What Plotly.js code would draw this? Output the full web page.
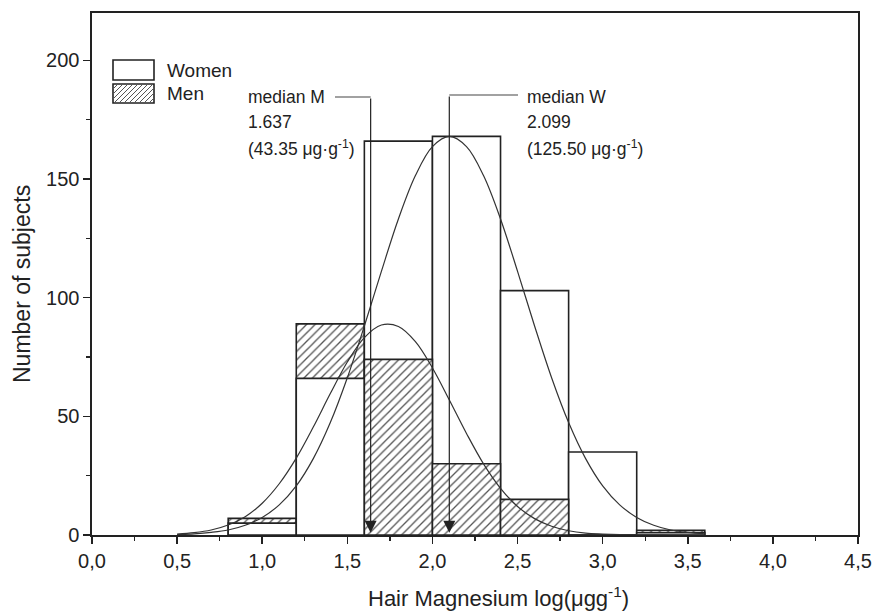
<!DOCTYPE html>
<html>
<head>
<meta charset="utf-8">
<script src="https://cdn.plot.ly/plotly-3.0.1.min.js"></script>
<style>html,body{margin:0;padding:0;background:#fff;}#chart{width:874px;height:612px;}</style>
</head>
<body>
<div id="chart"></div>
<script>
// ---- data ----
const binCenters = [1.0, 1.4, 1.8, 2.2, 2.6, 3.0, 3.4];
const women = [5, 66, 166, 168, 103, 35, 1];
const men   = [7, 89, 74, 30, 15, 0, 2];

const curveX = [0.5,0.6,0.7,0.8,0.9,1.0,1.1,1.2,1.3,1.4,1.5,1.6,1.7,1.8,1.9,2.0,2.1,2.2,2.3,2.4,2.5,2.6,2.7,2.8,2.9,3.0,3.1,3.2,3.3,3.4,3.5,3.6];
const womenFit = [0.2,0.5,1.1,2.1,4.1,7.4,12.7,20.7,32.2,47.4,66.3,88.1,111.1,133.2,151.5,163.7,168,163.7,151.5,133.2,111.1,88.1,66.3,47.4,32.2,20.7,12.7,7.4,4.1,2.1,1.1,0.5];
const menFit   = [0.4,1.0,2.1,4.2,7.7,13.4,21.6,32.4,45.5,59.6,72.9,83.2,88.5,87.9,81.5,70.4,56.8,42.8,30.0,19.7,12.0,6.9,3.7,1.8,0.8,0.4,0.15,0.06,0.02,0.01,0,0];

const medianM = 1.637, medianW = 2.099;
const medianMLabel = ["median M", "1.637", "(43.35 μg·g<sup>-1</sup>)"];
const medianWLabel = ["median W", "2.099", "(125.50 μg·g<sup>-1</sup>)"];
const xTickVals = [0,0.5,1.0,1.5,2.0,2.5,3.0,3.5,4.0,4.5];
const xTickText = ["0,0","0,5","1,0","1,5","2,0","2,5","3,0","3,5","4,0","4,5"];
const yTickVals = [0,50,100,150,200];
const legendNames = ["Women", "Men"];
const xTitle = 'Hair Magnesium log(μgg<sup>-1</sup>)';
const yTitle = 'Number of subjects';

// ---- styles ----
const FONT = "Liberation Sans, Arial, sans-serif";
const HATCH = '/';
const L = 92, R = 16, T = 13, B = 77, W = 874, H = 612;
const pw = W - L - R, ph = H - T - B;
const px2x = p => (p - L) / pw;         // pixel -> paper x
const py2y = p => (H - B - p) / ph;     // pixel -> paper y

// larger bar behind, smaller in front (per bin)
const backY = [], backShape = [], frontY = [], frontShape = [];
women.forEach((w, i) => {
  const m = men[i];
  if (w >= m) { backY.push(w); backShape.push(''); frontY.push(m); frontShape.push(HATCH); }
  else { backY.push(m); backShape.push(HATCH); frontY.push(w); frontShape.push(''); }
});

function barTrace(y, shapes) {
  return {
    type: 'bar', x: binCenters, y: y, width: 0.4,
    marker: {
      color: 'white',
      line: {color: '#222', width: 1.6},
      pattern: {shape: shapes, fgcolor: '#555', bgcolor: 'white', size: 6, solidity: 0.22, fillmode: 'replace'}
    },
    showlegend: false, hoverinfo: 'skip'
  };
}

const traces = [
  barTrace(backY, backShape),
  barTrace(frontY, frontShape),
  {type: 'scatter', mode: 'lines', x: curveX, y: womenFit, line: {color: '#333', width: 1.2, shape: 'spline'}, showlegend: false},
  {type: 'scatter', mode: 'lines', x: curveX, y: menFit, line: {color: '#333', width: 1.2, shape: 'spline'}, showlegend: false}
];

// legend boxes (custom)
const shapes = [];
const boxX0 = 113, boxX1 = 154;
const boxes = [[60, 80], [84, 103]];
boxes.forEach((b, i) => {
  shapes.push({type: 'rect', xref: 'paper', yref: 'paper', x0: px2x(boxX0), x1: px2x(boxX1), y0: py2y(b[1]), y1: py2y(b[0]),
    line: {color: '#222', width: 1.6}, fillcolor: 'white', layer: 'above'});
});
// hatch lines in Men legend box
(function () {
  const y0 = boxes[1][1], y1 = boxes[1][0], h = y0 - y1;
  let path = '';
  for (let s = boxX0 - h; s < boxX1; s += 5) {
    let xa = s, ya = y0, xb = s + h, yb = y1;
    if (xa < boxX0) { ya = y0 - (boxX0 - xa); xa = boxX0; }
    if (xb > boxX1) { yb = y1 + (xb - boxX1); xb = boxX1; }
    if (xb <= xa) continue;
    path += `M${px2x(xa)},${py2y(ya)}L${px2x(xb)},${py2y(yb)}`;
  }
  shapes.push({type: 'path', xref: 'paper', yref: 'paper', path: path, line: {color: '#555', width: 1}, layer: 'above'});
})();

// median connector lines
const yM = (H - B - 97) / ph * 220;
const yWl = (H - B - 95) / ph * 220;
shapes.push({type: 'line', xref: 'x', yref: 'y', x0: (335 - L) / pw * 4.5, x1: medianM, y0: yM, y1: yM, line: {color: '#444', width: 1.2}});
shapes.push({type: 'line', xref: 'x', yref: 'y', x0: medianW, x1: (518 - L) / pw * 4.5, y0: yWl, y1: yWl, line: {color: '#444', width: 1.2}});

const annFont = {family: FONT, size: 17.5, color: '#222'};
const annotations = [];
// legend text
legendNames.forEach((n, i) => {
  annotations.push({xref: 'paper', yref: 'paper', x: px2x(165), y: py2y((boxes[i][0] + boxes[i][1]) / 2), text: n,
    showarrow: false, xanchor: 'left', yanchor: 'middle', font: {family: FONT, size: 19, color: '#222'}});
});
// median text
const lineYs = [97, 122, 148];
medianMLabel.forEach((t, i) => annotations.push({xref: 'paper', yref: 'paper', x: px2x(246), y: py2y(lineYs[i]), text: t,
  showarrow: false, xanchor: 'left', yanchor: 'middle', font: annFont}));
medianWLabel.forEach((t, i) => annotations.push({xref: 'paper', yref: 'paper', x: px2x(525), y: py2y(lineYs[i]), text: t,
  showarrow: false, xanchor: 'left', yanchor: 'middle', font: annFont}));
// median arrows
[[medianM, yM], [medianW, yWl]].forEach(a => annotations.push({
  xref: 'x', yref: 'y', axref: 'x', ayref: 'y', x: a[0], y: 1.0, ax: a[0], ay: a[1], text: '',
  showarrow: true, arrowhead: 2, arrowsize: 2, arrowwidth: 1.2, arrowcolor: '#222'
}));
// axis titles (placed as in the reference)
annotations.push({xref: 'paper', yref: 'paper', x: px2x(498), y: py2y(597), text: xTitle, showarrow: false,
  xanchor: 'center', yanchor: 'middle', font: {family: FONT, size: 22, color: '#222'}});
annotations.push({xref: 'paper', yref: 'paper', x: px2x(22), y: py2y(284), text: yTitle, showarrow: false, textangle: -90,
  xanchor: 'center', yanchor: 'middle', font: {family: FONT, size: 23, color: '#222'}});

const layout = {
  width: W, height: H,
  margin: {l: L, r: R, t: T, b: B},
  paper_bgcolor: 'white', plot_bgcolor: 'white',
  barmode: 'overlay', bargap: 0,
  showlegend: false,
  font: {family: FONT, color: '#222'},
  xaxis: {
    range: [0, 4.5], tickvals: xTickVals, ticktext: xTickText,
    ticks: 'outside', ticklen: 7, tickwidth: 1.5, tickcolor: '#222',
    minor: {dtick: 0.25, tick0: 0.25, ticks: 'outside', ticklen: 4, tickwidth: 1.3, tickcolor: '#222', showgrid: false},
    showline: true, linecolor: '#222', linewidth: 1.6, mirror: true,
    showgrid: false, zeroline: false,
    tickfont: {family: FONT, size: 20, color: '#222'}
  },
  yaxis: {
    range: [0, 220], tickvals: yTickVals,
    ticks: 'outside', ticklen: 7, tickwidth: 1.5, tickcolor: '#222',
    minor: {dtick: 25, ticks: 'outside', ticklen: 4, tickwidth: 1.3, tickcolor: '#222', showgrid: false},
    showline: true, linecolor: '#222', linewidth: 1.6, mirror: true,
    showgrid: false, zeroline: false,
    tickfont: {family: FONT, size: 20, color: '#222'}
  },
  shapes: shapes,
  annotations: annotations
};

Plotly.newPlot('chart', traces, layout, {displayModeBar: false, staticPlot: true});
</script>
</body>
</html>
